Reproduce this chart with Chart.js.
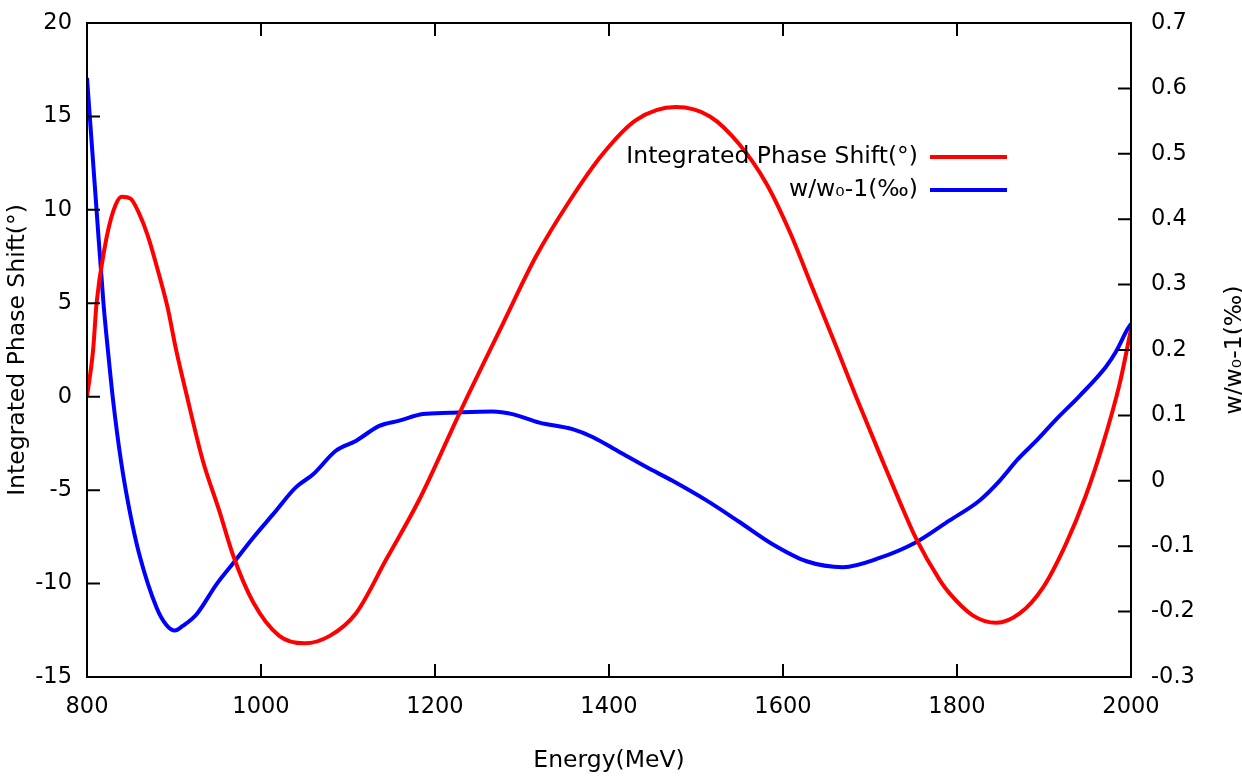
<!DOCTYPE html>
<html>
<head>
<meta charset="utf-8">
<script src="https://cdn.jsdelivr.net/npm/chart.js@4.4.1/dist/chart.umd.min.js"></script>
<style>
    html, body { margin: 0; padding: 0; background: #fff; }
</style>
</head>
<body>
<canvas id="phaseChart" width="1242" height="779"></canvas>
<script>
// Integrated phase shift (degrees), left axis
const phaseEnergy = [800, 807, 811, 820, 830, 840, 850, 860, 870, 883, 893, 902, 914, 933, 952, 968, 991,
    1021, 1050, 1079, 1109, 1144, 1182, 1230, 1278, 1316, 1355, 1393, 1431, 1477, 1516, 1550, 1581,
    1608, 1634, 1661, 1684, 1715, 1734, 1753, 1780, 1791, 1818, 1845, 1872, 1899, 1925, 1948, 1968,
    1987, 2000];
const phaseShift = [0, 2.5, 5.0, 7.9, 9.9, 10.7, 10.6, 9.8, 8.6, 6.5, 4.7, 2.6, 0.2, -3.4, -6.1, -8.5, -11.0,
    -12.8, -13.2, -12.8, -11.6, -8.7, -5.5, -0.7, 3.9, 7.5, 10.5, 13.0, 14.8, 15.5, 15.0, 13.5, 11.4,
    8.8, 5.8, 2.7, 0, -3.5, -5.6, -7.6, -9.8, -10.5, -11.7, -12.1, -11.6, -10.2, -7.9, -5.3, -2.5,
    0.7, 3.6];

// w/w0 - 1 (per mille), right axis
const ratioEnergy = [800, 811, 819, 824, 830, 839, 849, 860, 880, 891, 901, 910, 926, 949, 968, 991,
    1014, 1040, 1060, 1086, 1109, 1136, 1159, 1186, 1217, 1266, 1289, 1320, 1358, 1381, 1412, 1443,
    1473, 1512, 1550, 1588, 1627, 1669, 1711, 1753, 1791, 1826, 1849, 1870, 1891, 1914, 1941, 1971,
    1983, 1996, 2000];
const ratioValues = [0.616, 0.414, 0.27, 0.2, 0.123, 0.031, -0.046, -0.112, -0.194, -0.22, -0.229, -0.222,
    -0.204, -0.158, -0.126, -0.087, -0.051, -0.01, 0.01, 0.046, 0.061, 0.084, 0.092, 0.102, 0.104,
    0.106, 0.102, 0.089, 0.079, 0.067, 0.044, 0.021, 0.0, -0.03, -0.063, -0.097, -0.123, -0.132,
    -0.118, -0.094, -0.061, -0.03, 0.0, 0.033, 0.061, 0.094, 0.13, 0.174, 0.198, 0.232, 0.24];

const xTitle = 'Energy(MeV)';
const yTitle = 'Integrated Phase Shift(°)';
const y2Title = 'w/w₀-1(‰)';

const FONT = '"DejaVu Sans", sans-serif';
const FONT_SIZE = 23.5;
const TICK_FONT_SIZE = 22.5;
const TICK = 13;

Chart.defaults.font.family = FONT;
Chart.defaults.font.size = FONT_SIZE;
Chart.defaults.color = '#000';

const toPoints = (xs, ys) => xs.map((x, i) => ({ x: x, y: ys[i] }));

// keep the plot box fixed: no extra room above/below for the end labels
const fixVertical = width => scale => {
    scale.width = width;
    scale.paddingTop = 0;
    scale.paddingBottom = 0;
};

// frame, inward ticks, legend and right axis title
const gnuplotFrame = {
    id: 'gnuplotFrame',
    afterDatasetsDraw(chart) {
        const { ctx, chartArea: a, scales } = chart;
        ctx.save();
        ctx.strokeStyle = '#000';
        ctx.lineWidth = 2;
        ctx.strokeRect(a.left, a.top, a.right - a.left, a.bottom - a.top);

        ctx.beginPath();
        scales.x.ticks.forEach(t => {
            const px = scales.x.getPixelForValue(t.value);
            ctx.moveTo(px, a.bottom);
            ctx.lineTo(px, a.bottom - TICK);
            ctx.moveTo(px, a.top);
            ctx.lineTo(px, a.top + TICK);
        });
        scales.y.ticks.forEach(t => {
            const py = scales.y.getPixelForValue(t.value);
            ctx.moveTo(a.left, py);
            ctx.lineTo(a.left + TICK, py);
        });
        scales.y2.ticks.forEach(t => {
            const py = scales.y2.getPixelForValue(t.value);
            ctx.moveTo(a.right, py);
            ctx.lineTo(a.right - TICK, py);
        });
        ctx.stroke();

        // legend: text right aligned, sample line after it
        ctx.font = FONT_SIZE + 'px ' + FONT;
        ctx.fillStyle = '#000';
        ctx.textAlign = 'right';
        ctx.textBaseline = 'middle';
        chart.data.datasets.forEach((ds, i) => {
            const ly = 157 + i * 33;
            ctx.fillText(ds.label, 918, ly);
            ctx.strokeStyle = ds.borderColor;
            ctx.lineWidth = 4;
            ctx.beginPath();
            ctx.moveTo(930, ly);
            ctx.lineTo(1007, ly);
            ctx.stroke();
        });

        // right axis title, read bottom to top like the left one
        ctx.translate(1241, (a.top + a.bottom) / 2);
        ctx.rotate(-Math.PI / 2);
        ctx.textAlign = 'center';
        ctx.textBaseline = 'alphabetic';
        ctx.fillText(y2Title, 0, 0);
        ctx.restore();
    }
};

const ctx = document.getElementById('phaseChart').getContext('2d');
const phaseChart = new Chart(ctx, {
    type: 'line',
    data: {
        datasets: [{
            label: yTitle,
            data: toPoints(phaseEnergy, phaseShift),
            yAxisID: 'y',
            borderColor: '#ff0000',
            borderWidth: 4,
            pointRadius: 0,
            cubicInterpolationMode: 'monotone'
        }, {
            label: y2Title,
            data: toPoints(ratioEnergy, ratioValues),
            yAxisID: 'y2',
            borderColor: '#0000ff',
            borderWidth: 4,
            pointRadius: 0,
            cubicInterpolationMode: 'monotone'
        }]
    },
    options: {
        responsive: false,
        animation: false,
        layout: { padding: { top: 23, left: 0, right: 0, bottom: 0 } },
        plugins: {
            legend: { display: false },
            tooltip: { enabled: false }
        },
        scales: {
            x: {
                type: 'linear',
                position: 'bottom',
                min: 800,
                max: 2000,
                grid: { display: false, drawTicks: false },
                border: { display: false },
                ticks: { stepSize: 200, padding: 17, maxRotation: 0, font: { size: TICK_FONT_SIZE }, callback: v => String(v) },
                title: { display: true, text: xTitle },
                afterFit: scale => { scale.height = 102; }
            },
            y: {
                position: 'left',
                min: -15,
                max: 20,
                grid: { display: false, drawTicks: false },
                border: { display: false },
                ticks: { stepSize: 5, padding: 15, font: { size: TICK_FONT_SIZE }, callback: v => String(v) },
                title: { display: true, text: yTitle },
                afterFit: fixVertical(87)
            },
            y2: {
                position: 'right',
                min: -0.3,
                max: 0.7,
                grid: { display: false, drawTicks: false },
                border: { display: false },
                ticks: { stepSize: 0.1, padding: 20, font: { size: TICK_FONT_SIZE }, callback: v => String(Math.round(v * 10) / 10) },
                afterFit: fixVertical(111)
            }
        }
    },
    plugins: [gnuplotFrame]
});
</script>
</body>
</html>
